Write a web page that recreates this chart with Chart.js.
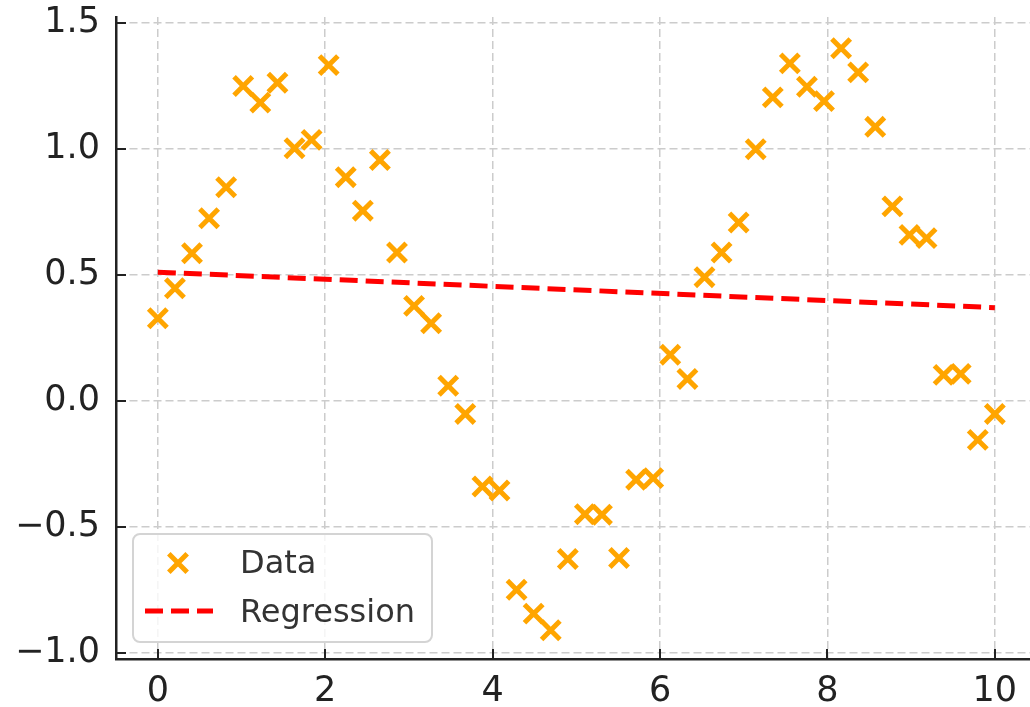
<!DOCTYPE html>
<html>
<head>
<meta charset="utf-8">
<script src="https://cdn.jsdelivr.net/npm/chart.js@4/dist/chart.umd.min.js"></script>
<style>
  html, body { margin: 0; padding: 0; background: #fff; }
  canvas { display: block; }
</style>
</head>
<body>
<canvas id="chart" width="1030" height="707"></canvas>
<script>
const xValues = [0, 0.204, 0.408, 0.612, 0.816, 1.020, 1.224, 1.429, 1.633, 1.837,
  2.041, 2.245, 2.449, 2.653, 2.857, 3.061, 3.265, 3.469, 3.673, 3.878,
  4.082, 4.286, 4.490, 4.694, 4.898, 5.102, 5.306, 5.510, 5.714, 5.918,
  6.122, 6.327, 6.531, 6.735, 6.939, 7.143, 7.347, 7.551, 7.755, 7.959,
  8.163, 8.367, 8.571, 8.776, 8.980, 9.184, 9.388, 9.592, 9.796, 10.0];
const yValues = [0.328, 0.447, 0.586, 0.725, 0.848, 1.250, 1.184, 1.263, 1.003, 1.036,
  1.333, 0.888, 0.755, 0.956, 0.589, 0.377, 0.308, 0.060, -0.052, -0.340,
  -0.356, -0.750, -0.845, -0.911, -0.628, -0.450, -0.452, -0.624, -0.313, -0.307,
  0.183, 0.087, 0.491, 0.589, 0.708, 0.999, 1.205, 1.340, 1.247, 1.190,
  1.400, 1.304, 1.088, 0.772, 0.659, 0.646, 0.103, 0.107, -0.155, -0.052];
const regressionX = [0, 10];
const regressionY = [0.511, 0.370];
const xTicks = [0, 2, 4, 6, 8, 10];
const yTicks = [-1.0, -0.5, 0.0, 0.5, 1.0, 1.5];

const FONT = 'DejaVu Sans';
const ORANGE = '#ffa500';
const RED = '#ff0000';
const SPINE = '#222222';

// inward tick marks, like the original
const innerTicks = {
  id: 'innerTicks',
  afterDatasetsDraw(chart) {
    const { ctx, chartArea, scales } = chart;
    ctx.save();
    ctx.strokeStyle = SPINE;
    ctx.lineWidth = 2;
    xTicks.forEach((t) => {
      const px = Math.round(scales.x.getPixelForValue(t));
      ctx.beginPath();
      ctx.moveTo(px, chartArea.bottom);
      ctx.lineTo(px, chartArea.bottom - 10);
      ctx.stroke();
    });
    yTicks.forEach((t) => {
      const py = Math.round(scales.y.getPixelForValue(t));
      ctx.beginPath();
      ctx.moveTo(chartArea.left, py);
      ctx.lineTo(chartArea.left + 10, py);
      ctx.stroke();
    });
    ctx.restore();
  }
};

const boxLegend = {
  id: 'boxLegend',
  afterDraw(chart) {
    const { ctx } = chart;
    const [data, reg] = chart.data.datasets;
    ctx.save();
    ctx.beginPath();
    ctx.roundRect(133, 534, 299, 108, 7);
    ctx.fillStyle = 'rgba(255,255,255,0.8)';
    ctx.fill();
    ctx.strokeStyle = '#d4d4d4';
    ctx.lineWidth = 2;
    ctx.stroke();

    ctx.strokeStyle = data.borderColor;
    ctx.lineWidth = data.pointBorderWidth;
    Chart.helpers.drawPoint(ctx, {
      pointStyle: 'crossRot', radius: data.pointRadius, borderWidth: data.pointBorderWidth, rotation: 0
    }, 178, 563);

    ctx.beginPath();
    ctx.setLineDash(reg.borderDash);
    ctx.strokeStyle = reg.borderColor;
    ctx.lineWidth = reg.borderWidth;
    ctx.moveTo(145, 611);
    ctx.lineTo(213, 611);
    ctx.stroke();
    ctx.setLineDash([]);

    ctx.fillStyle = '#333333';
    ctx.font = `32px "${FONT}"`;
    ctx.textBaseline = 'alphabetic';
    ctx.fillText(data.label, 240, 573);
    ctx.fillText(reg.label, 240, 622);
    ctx.restore();
  }
};

new Chart(document.getElementById('chart'), {
  type: 'scatter',
  data: {
    datasets: [
      {
        label: 'Data',
        data: xValues.map((x, i) => ({ x, y: yValues[i] })),
        pointStyle: 'crossRot',
        pointRadius: 13,
        pointHoverRadius: 13,
        pointBorderWidth: 5,
        borderColor: ORANGE,
        backgroundColor: ORANGE,
        order: 2
      },
      {
        type: 'line',
        label: 'Regression',
        data: regressionX.map((x, i) => ({ x, y: regressionY[i] })),
        borderColor: RED,
        borderWidth: 5,
        borderDash: [18, 8],
        pointRadius: 0,
        fill: false,
        order: 1
      }
    ]
  },
  options: {
    responsive: false,
    animation: false,
    devicePixelRatio: 1,
    layout: { autoPadding: false, padding: { top: 17, right: 0, bottom: 0, left: 0 } },
    plugins: { legend: { display: false }, tooltip: { enabled: false } },
    scales: {
      x: {
        type: 'linear',
        min: -0.5,
        max: 10.42,
        afterBuildTicks: (s) => { s.ticks = xTicks.map((v) => ({ value: v })); },
        afterFit: (s) => { s.height = 48; s.paddingLeft = 0; s.paddingRight = 0; },
        grid: { color: '#cccccc', lineWidth: 1.5, drawTicks: false },
        border: { display: true, color: SPINE, width: 2.5, dash: [8, 4] },
        ticks: {
          padding: 12,
          color: SPINE,
          font: { family: FONT, size: 35 },
          maxRotation: 0,
          callback: (v) => String(v)
        }
      },
      y: {
        type: 'linear',
        min: -1.025,
        max: 1.524,
        afterBuildTicks: (s) => { s.ticks = yTicks.map((v) => ({ value: v })); },
        afterFit: (s) => { s.width = 116; s.paddingTop = 0; s.paddingBottom = 0; },
        grid: { color: '#cccccc', lineWidth: 1.5, drawTicks: false },
        border: { display: true, color: SPINE, width: 2.5, dash: [8, 4] },
        ticks: {
          padding: 16,
          color: SPINE,
          font: { family: FONT, size: 35 },
          callback: (v) => v.toFixed(1).replace('-', '\u2212')
        }
      }
    }
  },
  plugins: [innerTicks, boxLegend]
});
</script>
</body>
</html>
